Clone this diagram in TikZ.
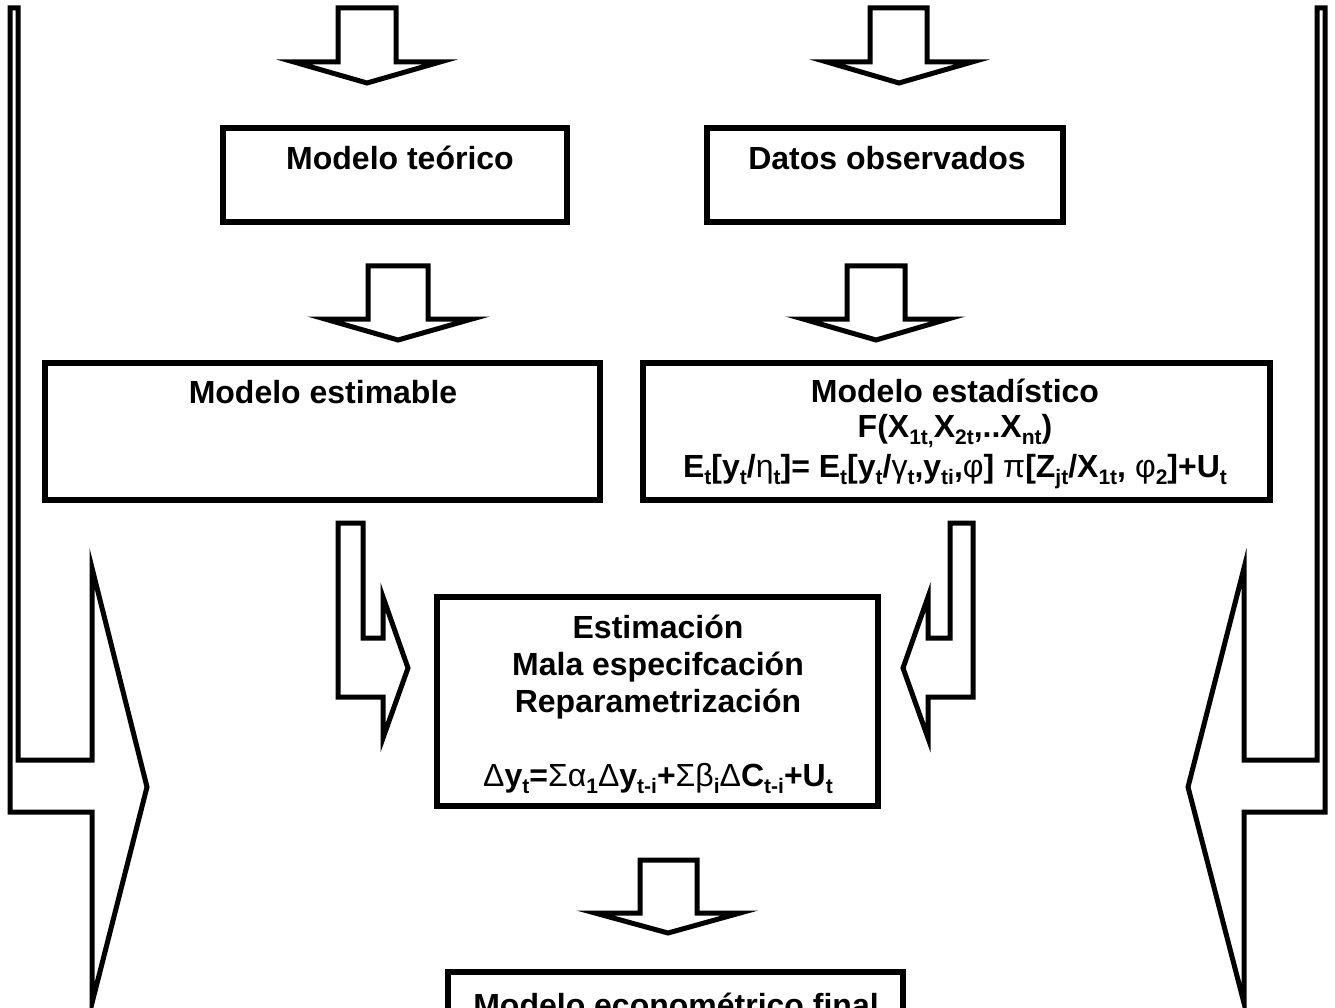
\documentclass[tikz,border=0pt]{standalone}
\usepackage{fontspec}
\setmainfont{Liberation Sans}
\newcommand\sbx[1]{\raisebox{-0.24em}{\fontsize{21}{21}\selectfont #1}}
\newcommand\gk[1]{{\mdseries #1}}
\tikzset{
  box/.style={draw, line width=5.5pt, line join=miter, inner sep=0pt, outer sep=0pt, fill=white},
  lbl/.style={anchor=base, inner sep=0pt, font=\fontsize{32}{36}\selectfont\bfseries},
  blockarrow/.style={draw, line width=5pt, line join=miter, miter limit=20, fill=white}
}
\begin{document}
\begin{tikzpicture}[x=1pt, y=-1pt]
\useasboundingbox (0,0) rectangle (1335,1008);
\clip (0,0) rectangle (1335,1008);
\fill[white] (0,0) rectangle (1335,1008);

% long side arrows
\draw[blockarrow] (10,8) -- (18,8) -- (18,760) -- (92,760) -- (92,568) -- (147,787) -- (92,1003) -- (92,812) -- (10,812) -- cycle;
\draw[blockarrow] (1325,8) -- (1317,8) -- (1317,760) -- (1244,760) -- (1244,568) -- (1188,787) -- (1244,1003) -- (1244,812) -- (1325,812) -- cycle;

% boxes
\node[box, minimum width=344, minimum height=94] (teo) at (395,175) {};
\node[box, minimum width=356, minimum height=94] (dat) at (885,175) {};
\node[box, minimum width=555, minimum height=137] (est) at (322.5,431.5) {};
\node[box, minimum width=627, minimum height=137] (sta) at (956.5,431.5) {};
\node[box, minimum width=441, minimum height=209] (mid) at (657.5,701.5) {};
\node[box, minimum width=455, minimum height=88] (fin) at (675.5,1016) {};

% down arrows
\draw[blockarrow] (338,8) -- (396,8) -- (396,62) -- (440,62) -- (367,83) -- (294,62) -- (338,62) -- cycle;
\draw[blockarrow] (870,8) -- (927,8) -- (927,62) -- (972,62) -- (899,83) -- (827,62) -- (870,62) -- cycle;
\draw[blockarrow] (368,266) -- (428,266) -- (428,319) -- (472,319) -- (398,340) -- (325,319) -- (368,319) -- cycle;
\draw[blockarrow] (847,266) -- (905,266) -- (905,319) -- (948,319) -- (876,340) -- (803,319) -- (847,319) -- cycle;
\draw[blockarrow] (640,860) -- (697,860) -- (697,913) -- (740,913) -- (668,933) -- (595,913) -- (640,913) -- cycle;

% bent arrows into the centre box
\draw[blockarrow] (338,523) -- (363,523) -- (363,638) -- (383,638) -- (383,597) -- (408,668) -- (383,738) -- (383,697) -- (338,697) -- cycle;
\draw[blockarrow] (973,523) -- (950,523) -- (950,638) -- (928,638) -- (928,597) -- (903,668) -- (928,738) -- (928,697) -- (973,697) -- cycle;

% texts
\node[lbl] (teo-t) at (400,170) {Modelo teórico};
\node[lbl] (dat-t) at (887,170) {Datos observados};
\node[lbl] (est-t) at (323,403) {Modelo estimable};
\node[lbl] (sta-t1) at (955,402) {Modelo estadístico};
\node[lbl] (sta-t2) at (955,437) {F(X\sbx{1t,}X\sbx{2t},..X\sbx{nt})};
\node[lbl] (sta-t3) at (955,477) {E\sbx{t}[y\sbx{t}/\gk{η}\sbx{t}]= E\sbx{t}[y\sbx{t}/\gk{γ}\sbx{t},y\sbx{ti},\gk{φ}] \gk{π}[Z\sbx{jt}/X\sbx{1t}, \gk{φ}\sbx{2}]+U\sbx{t}};
\node[lbl] (mid-t1) at (658,638) {Estimación};
\node[lbl] (mid-t2) at (658,675) {Mala especifcación};
\node[lbl] (mid-t3) at (658,712) {Reparametrización};
\node[lbl] (mid-t4) at (658,786) {\gk{Δ}y\sbx{t}=\gk{Σα}\sbx{1}\gk{Δ}y\sbx{t-i}+\gk{Σβ}\sbx{i}\gk{Δ}C\sbx{t-i}+U\sbx{t}};
\node[lbl] (fin-t) at (676,1016) {Modelo econométrico final};
\end{tikzpicture}
\end{document}
